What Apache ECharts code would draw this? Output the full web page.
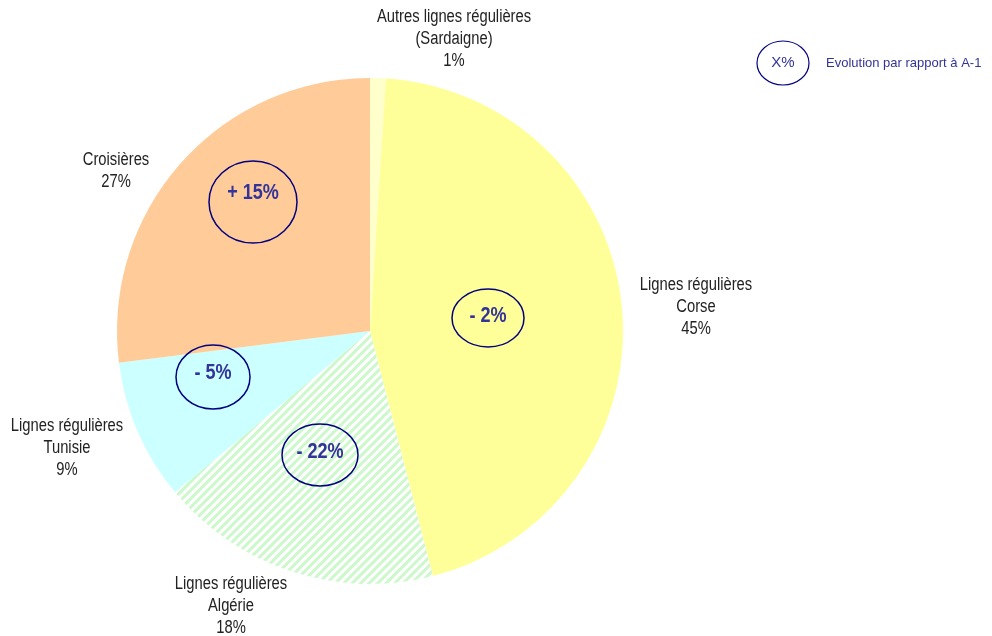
<!DOCTYPE html>
<html>
<head>
<meta charset="utf-8">
<script src="https://cdn.jsdelivr.net/npm/echarts@6/dist/echarts.min.js"></script>
<style>
  html, body { margin: 0; padding: 0; background: #fff; }
  #chart { width: 992px; height: 636px; }
</style>
</head>
<body>
<div id="chart"></div>
<script>
// parts of traffic, in percent, clockwise from the top
var names = [
    'Autres lignes régulières\n(Sardaigne)',
    'Lignes régulières\nCorse',
    'Lignes régulières\nAlgérie',
    'Lignes régulières\nTunisie',
    'Croisières'
];
var shares = [1, 45, 18, 9, 27];
// evolution vs previous year, percent (null = not shown)
var evolutions = [null, -2, -22, -5, 15];

var colors = ['#FFFFCC', '#FFFF99', '#FFFFFF', '#CCFFFF', '#FFCC99'];

// where the label texts sit (center of text block)
var labelPos = [[454, 39], [696, 307], [231, 606], [67, 448], [116, 171]];
// evolution ellipses: cx, cy, rx, ry, text y
var evoPos = [null, [488, 318, 36, 29, 316], [320, 455, 38, 31, 452], [213, 377, 37, 32, 373], [253, 202, 44, 41, 193]];

// no narrow font installed: squeeze Liberation Sans instead
var textFont = '"Liberation Sans", Arial, sans-serif';
var narrow = 0.82;
var blue = '#333399';
var navy = '#000080';

function fmtEvo(v) {
    return (v > 0 ? '+ ' : '- ') + Math.abs(v) + '%';
}

var chart = echarts.init(document.getElementById('chart'), null, { renderer: 'canvas' });

var pieData = shares.map(function (v, i) {
    var item = {
        name: names[i],
        value: v,
        itemStyle: { color: colors[i] }
    };
    if (i === 2) {
        // hatched slice
        item.itemStyle.decal = {
            symbol: 'rect',
            symbolSize: 1,
            color: '#CCF8CC',
            dashArrayX: [1, 0],
            dashArrayY: [2.5, 2.5],
            rotation: -Math.PI / 4
        };
    }
    return item;
});

var graphics = [];

// slice labels
names.forEach(function (n, i) {
    var p = labelPos[i];
    graphics.push({
        type: 'text',
        x: p[0],
        y: p[1],
        scaleX: narrow,
        style: {
            text: n + '\n' + shares[i] + '%',
            align: 'center',
            verticalAlign: 'middle',
            fill: '#222222',
            font: '18px ' + textFont,
            lineHeight: 22
        },
        z: 11
    });
});

evolutions.forEach(function (v, i) {
    if (v == null) return;
    var p = evoPos[i];
    graphics.push({
        type: 'ellipse',
        shape: { cx: p[0], cy: p[1], rx: p[2], ry: p[3] },
        style: { fill: 'none', stroke: navy, lineWidth: 1.5 },
        z: 10
    });
    graphics.push({
        type: 'text',
        x: p[0],
        y: p[4],
        scaleX: narrow,
        style: {
            text: fmtEvo(v),
            align: 'center',
            verticalAlign: 'middle',
            fill: blue,
            font: 'bold 22px ' + textFont
        },
        z: 11
    });
});

// legend of the ellipses
graphics.push({
    type: 'ellipse',
    shape: { cx: 783, cy: 63, rx: 26, ry: 22 },
    style: { fill: 'none', stroke: navy, lineWidth: 1.2 },
    z: 10
});
graphics.push({
    type: 'text',
    x: 783,
    y: 63,
    style: {
        text: 'X%',
        align: 'center',
        verticalAlign: 'middle',
        fill: blue,
        font: '15px ' + textFont
    },
    z: 11
});
graphics.push({
    type: 'text',
    x: 826,
    y: 63,
    style: {
        text: 'Evolution par rapport à A-1',
        align: 'left',
        verticalAlign: 'middle',
        fill: blue,
        font: '13px ' + textFont
    },
    z: 11
});

chart.setOption({
    backgroundColor: '#ffffff',
    animation: false,
    series: [
        {
            type: 'pie',
            center: [370, 331],
            radius: 253,
            startAngle: 90,
            clockwise: true,
            silent: true,
            data: pieData,
            itemStyle: { borderWidth: 0 },
            label: { show: false },
            labelLine: { show: false }
        }
    ],
    graphic: graphics
});
</script>
</body>
</html>
